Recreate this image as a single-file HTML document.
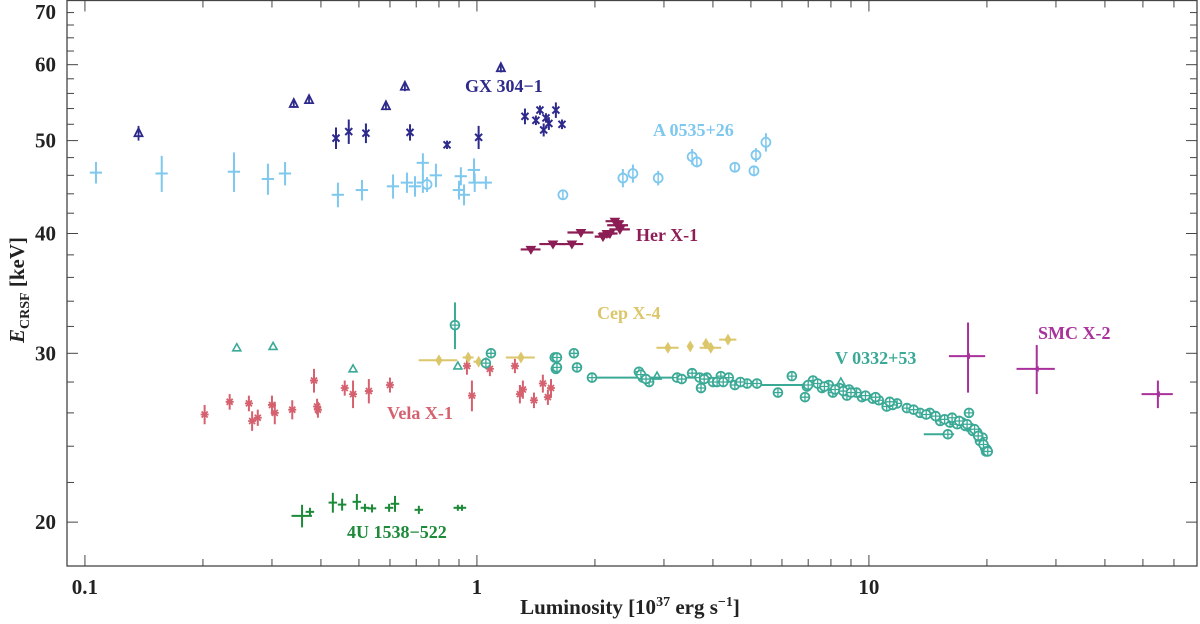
<!DOCTYPE html>
<html><head><meta charset="utf-8"><title>CRSF energy vs luminosity</title>
<style>
html,body{margin:0;padding:0;background:#fff;}
svg{display:block;font-family:"Liberation Serif",serif;}
</style></head>
<body>
<svg id="chart" width="1200" height="624" viewBox="0 0 1200 624" xmlns="http://www.w3.org/2000/svg">
<g id="axes"></g>
<g id="marks"></g>
<g id="labels"></g>
</svg>
<script>
// ---- data (luminosity in 1e37 erg/s, energy in keV, errors in keV / lum units) ----
const gxTriL = [0.137,0.341,0.373,0.586,0.655,1.151];
const gxTriE = [50.9,54.6,55.1,54.3,56.9,59.5];
const gxTriErr = [0.9,0.5,0.5,0.5,0.6,0.6];
const gxXL = [0.437,0.471,0.521,0.675,0.839,1.01,1.326,1.414,1.448,1.48,1.5,1.526,1.59,1.648];
const gxXE = [50.3,51.1,50.9,51.0,49.5,50.4,53.0,52.5,53.8,51.3,52.8,52.1,53.8,52.0];
const gxXErr = [1.3,1.5,1.2,1.0,0.5,1.4,1.0,0.6,0.6,0.8,0.6,0.8,1.0,0.6];
const aCrL = [0.1067,0.157,0.240,0.293,0.324,0.442,0.509,0.611,0.663,0.695,0.728,0.728,0.786,0.900,0.910,0.927,0.983,0.987,1.054];
const aCrE = [46.3,46.2,46.4,45.6,46.2,43.9,44.4,44.8,45.2,44.8,47.4,45.2,46.0,44.4,45.9,43.9,46.6,45.2,45.2];
const aCrErr = [1.2,2.0,2.2,1.7,1.3,1.3,1.1,1.3,1.1,1.1,1.1,1.1,1.3,1.0,1.0,1.1,1.3,1.0,0.7];
const aCiL = [0.746,1.657,2.357,2.50,2.90,3.54,3.64,4.55,5.09,5.15,5.46];
const aCiE = [45.0,43.9,45.7,46.2,45.7,48.1,47.5,46.9,46.5,48.3,49.8];
const aCiErr = [0.8,0.4,1.0,1.0,0.8,0.9,0.6,0.5,0.6,0.8,1.1];
const herL = [1.373,1.563,1.747,1.842,2.097,2.146,2.184,2.249,2.289,2.316];
const herE = [38.5,39.0,39.0,40.1,39.7,40.0,40.0,41.2,40.8,40.4];
const herXErr = [0.08,0.12,0.12,0.14,0.10,0.10,0.10,0.12,0.14,0.14];
const velaL = [0.202,0.234,0.262,0.267,0.276,0.300,0.305,0.338,0.384,0.391,0.393,0.460,0.483,0.530,0.600,0.943,0.971,1.079,1.250,1.287,1.31,1.398,1.473,1.517,1.545];
const velaE = [25.9,26.7,26.6,25.5,25.7,26.5,26.0,26.2,28.1,26.4,26.2,27.6,27.2,27.4,27.8,29.1,27.1,28.9,29.1,27.2,27.5,26.8,27.9,27.0,27.6];
const velaErr = [0.6,0.5,0.5,0.6,0.5,0.6,0.7,0.6,0.8,0.5,0.5,0.5,0.9,0.8,0.5,0.6,1.0,0.5,0.5,0.6,0.6,0.5,0.6,0.5,0.6];
const uL = [0.358,0.375,0.429,0.453,0.494,0.518,0.540,0.597,0.618,0.711,0.894,0.916];
const uE = [20.3,20.5,20.96,20.86,21.0,20.7,20.67,20.7,20.9,20.6,20.7,20.7];
const uErr = [0.55,0.2,0.5,0.3,0.4,0.2,0.2,0.2,0.4,0.2,0.15,0.15];
const cepL = [0.80,0.95,1.01,1.295,3.07,3.50,3.84,3.95,4.37];
const cepE = [29.5,29.7,29.4,29.7,30.4,30.5,30.7,30.4,31.0];
const cepXErr = [0.09,0.03,0.03,0.11,0.20,0.05,0.08,0.25,0.22];
const smcL = [17.9,26.8,54.6];
const smcE = [29.8,28.9,27.2];
const smcErrE = [2.5,1.7,0.9];
const smcErrL = [1.9,3.0,5.0];
const vTriL = [0.244,0.302,0.483,0.894,2.88,8.48];
const vTriE = [30.4,30.5,28.9,29.1,28.4,28.0];
const vL = [0.879,1.054,1.086,1.58,1.59,1.6,1.6,1.768,1.80,1.966,2.59,2.65,2.75,3.24,3.33,3.54,3.73,3.86,4.19,4.39,4.55,4.89,5.18,5.86,6.36,6.87,6.95,7.20,7.59,8.09,8.79,9.6,10.23,11.1,11.8,12.5,13.5,14.3,15.2,16.1,17.3,18.0,18.1,18.9,19.5,20.0,15.9,
  7.4,7.9,8.4,8.9,9.3,10.6,11.5,13.0,14.8,15.6,16.5,16.8,17.6,18.4,19.2,19.8,
  2.62,2.70,3.70,3.80,4.00,4.10,4.25,4.70,7.0,7.7,8.2,8.6,9.0,9.8,10.4,11.3,14.0,16.3,17.0,17.8,18.6,19.0,19.6,19.9,20.1];
const vE = [32.1,29.3,30.0,29.7,28.9,29.7,29.0,30.0,29.0,28.3,28.7,28.3,28.0,28.3,28.2,28.6,27.6,28.3,28.4,28.3,27.8,27.9,27.9,27.3,28.4,27.0,27.7,28.1,27.6,27.3,27.1,27.0,26.9,26.4,26.6,26.3,26.0,26.0,25.5,25.4,25.4,26.0,25.1,24.8,24.5,23.8,24.7,
  27.9,27.8,27.6,27.5,27.3,26.8,26.5,26.2,25.8,25.6,25.5,25.3,25.2,24.9,24.3,23.9,
  28.5,28.2,28.3,28.2,28.0,28.0,28.0,28.0,27.8,27.7,27.5,27.4,27.3,27.1,27.0,26.7,25.9,25.7,25.5,25.3,25.0,24.6,24.1,23.7,23.7];
const vErr = [1.8,0.4,0.3,0.3,0.3,0.3,0.3,0.3,0.3,0.3,0.3,0.3,0.3,0.3,0.3,0.3,0.3,0.3,0.3,0.3,0.3,0.3,0.3,0.3,0.3,0.3,0.3,0.3,0.3,0.3,0.3,0.3,0.3,0.3,0.3,0.3,0.3,0.3,0.3,0.3,0.3,0.3,0.3,0.3,0.3,0.3,0.3,
  0.2,0.2,0.2,0.2,0.2,0.2,0.2,0.2,0.2,0.2,0.2,0.2,0.2,0.2,0.2,0.2,
  0.2,0.2,0.2,0.2,0.2,0.2,0.2,0.2,0.2,0.2,0.2,0.2,0.2,0.2,0.2,0.2,0.2,0.2,0.2,0.2,0.2,0.2,0.2,0.2,0.2];
const xTickVals = [0.1,1,10];
const xTickLabels = ["0.1","1","10"];
const yTickVals = [20,30,40,50,60,70];
const yTickLabels = ["20","30","40","50","60","70"];

// ---- scales ----
const X0=67, X1=1197, Y0=0.5, Y1=566;
const LMIN=0.0900, LMAX=68.7, EMIN=18, EMAX=70;
function xs(L){return X0+(Math.log10(L)-Math.log10(LMIN))/(Math.log10(LMAX)-Math.log10(LMIN))*(X1-X0);}
function ys(E){return Y1-(Math.log10(E)-Math.log10(EMIN))/(Math.log10(EMAX)-Math.log10(EMIN))*(Y1-Y0);}
const NS="http://www.w3.org/2000/svg";
function mk(tag,attrs,parent){const e=document.createElementNS(NS,tag);for(const k in attrs)e.setAttribute(k,attrs[k]);parent.appendChild(e);return e;}
const axes=document.getElementById('axes'), marks=document.getElementById('marks'), labels=document.getElementById('labels');

// frame
const fr=mk('rect',{x:X0,y:Y0,width:X1-X0,height:Y1-Y0,fill:'none',stroke:'#444','stroke-width':1.3},axes);


// x ticks
const xMinor=[];
[0.1,1,10].forEach(d=>{for(let m=1;m<10;m++){const v=d*m;if(v>=LMIN&&v<=LMAX)xMinor.push(v);}});
xMinor.push(0.09);
xMinor.forEach(v=>{
  const major=[0.1,1,10].includes(v);
  const len=major?11:7;const x=xs(v);
  const t1=mk('line',{x1:x,x2:x,y1:Y1,y2:Y1-len,stroke:'#444','stroke-width':1},axes);
  
  
  const t2=mk('line',{x1:x,x2:x,y1:Y0,y2:Y0+len,stroke:'#444','stroke-width':1},axes);
  
  
});
xTickVals.forEach((v,i)=>{
  const t=mk('text',{x:xs(v),y:594,'text-anchor':'middle','font-size':21,'font-weight':'bold',fill:'#222'},axes);
  t.textContent=xTickLabels[i];
  
  
});
// y ticks
for(let v=18;v<=70;v+=2){
  const major=v%10===0;const len=major?11:7;const y=ys(v);
  const t1=mk('line',{x1:X0,x2:X0+len,y1:y,y2:y,stroke:'#444','stroke-width':1},axes);
  
  
  const t2=mk('line',{x1:X1,x2:X1-len,y1:y,y2:y,stroke:'#444','stroke-width':1},axes);
  
  
}
yTickVals.forEach((v,i)=>{
  let y=ys(v)+7; if(v===70) y=19;
  const t=mk('text',{x:56,y:y,'text-anchor':'end','font-size':21,'font-weight':'bold',fill:'#222'},axes);
  t.textContent=yTickLabels[i];
  
  
});
// axis titles
const xt=mk('text',{x:630,y:614,'text-anchor':'middle','font-size':21,'font-weight':'bold',fill:'#222'},axes);
xt.innerHTML='Luminosity [10<tspan dy="-8" font-size="14">37</tspan><tspan dy="8"> erg s</tspan><tspan dy="-8" font-size="14">−1</tspan><tspan dy="8">]</tspan>';


const yt=mk('text',{x:0,y:0,'text-anchor':'middle','font-size':21,'font-weight':'bold',fill:'#222',transform:'translate(24,290) rotate(-90)'},axes);
yt.innerHTML='<tspan font-style="italic">E</tspan><tspan font-size="14" dy="5">CRSF</tspan><tspan dy="-5"> [keV]</tspan>';



// ---- mark helpers ----
function vbar(g,L,E,err,c,w){mk('line',{x1:xs(L),x2:xs(L),y1:ys(E+err),y2:ys(Math.max(E-err,EMIN)),stroke:c,'stroke-width':w||2},g);}
function hbar(g,L,E,err,c,w){mk('line',{x1:xs(Math.max(L-err,LMIN)),x2:xs(L+err),y1:ys(E),y2:ys(E),stroke:c,'stroke-width':w||2},g);}
function grp(name){const g=mk('g',{},marks);return g;}

// GX 304-1
const cGX='#2e2a8c';
const gGX=grp('series-gx-304-1');
gxTriL.forEach((L,i)=>{const x=xs(L),y=ys(gxTriE[i]);vbar(gGX,L,gxTriE[i],gxTriErr[i],cGX,1.8);
  mk('path',{d:`M${x-4},${y+3}L${x+4},${y+3}L${x},${y-5}Z`,fill:'none',stroke:cGX,'stroke-width':1.8},gGX);});
gxXL.forEach((L,i)=>{const x=xs(L),y=ys(gxXE[i]);vbar(gGX,L,gxXE[i],gxXErr[i],cGX,2);
  mk('path',{d:`M${x-3.5},${y-3.5}L${x+3.5},${y+3.5}M${x+3.5},${y-3.5}L${x-3.5},${y+3.5}`,stroke:cGX,'stroke-width':2},gGX);});
// A 0535+26
const cA='#7ec8ef';
const gA=grp('series-a-0535-26');
aCrL.forEach((L,i)=>{vbar(gA,L,aCrE[i],aCrErr[i],cA,2);hbar(gA,L,aCrE[i],L*0.036,cA,2);});
aCiL.forEach((L,i)=>{const x=xs(L),y=ys(aCiE[i]);vbar(gA,L,aCiE[i],aCiErr[i],cA,2);
  mk('circle',{cx:x,cy:y,r:4.5,fill:'#fff',stroke:cA,'stroke-width':1.8},gA);
  mk('line',{x1:x,x2:x,y1:y-4.5,y2:y+4.5,stroke:cA,'stroke-width':1.5},gA);});
// Her X-1
const cH='#8c1d55';
const gH=grp('series-her-x-1');
herL.forEach((L,i)=>{const x=xs(L),y=ys(herE[i]);hbar(gH,L,herE[i],herXErr[i],cH,2.2);vbar(gH,L,herE[i],0.25,cH,2);
  mk('path',{d:`M${x-4.5},${y-3}L${x+4.5},${y-3}L${x},${y+4.5}Z`,fill:cH,stroke:cH,'stroke-width':1},gH);});
// Vela X-1
const cV='#d5616f';
const gV=grp('series-vela-x-1');
velaL.forEach((L,i)=>{const x=xs(L),y=ys(velaE[i]);vbar(gV,L,velaE[i],velaErr[i],cV,2);
  mk('path',{d:`M${x-4},${y}L${x+4},${y}M${x-3},${y-3}L${x+3},${y+3}M${x+3},${y-3}L${x-3},${y+3}`,stroke:cV,'stroke-width':1.8},gV);});
// 4U 1538-522
const cU='#1c8a38';
const gU=grp('series-4u-1538-522');
uL.forEach((L,i)=>{vbar(gU,L,uE[i],uErr[i],cU,2);hbar(gU,L,uE[i],L*(i===0?0.06:0.025),cU,2);});
// Cep X-4
const cC='#dcc66a';
const gC=grp('series-cep-x-4');
cepL.forEach((L,i)=>{const x=xs(L),y=ys(cepE[i]);hbar(gC,L,cepE[i],cepXErr[i],cC,2);
  mk('path',{d:`M${x},${y-5}L${x+3},${y}L${x},${y+5}L${x-3},${y}Z`,fill:cC,stroke:cC,'stroke-width':1},gC);});
// V 0332+53
const cT='#3aa996';
const gT=grp('series-v-0332-53');
vTriL.forEach((L,i)=>{const x=xs(L),y=ys(vTriE[i]);
  mk('path',{d:`M${x-4},${y+3}L${x+4},${y+3}L${x},${y-4}Z`,fill:'none',stroke:cT,'stroke-width':1.6},gT);});
mk('line',{x1:xs(2.0),x2:xs(3.8),y1:ys(28.3),y2:ys(28.3),stroke:cT,'stroke-width':2},gT);
mk('line',{x1:xs(5.1),x2:xs(6.9),y1:ys(27.8),y2:ys(27.8),stroke:cT,'stroke-width':2},gT);
mk('line',{x1:xs(13.8),x2:xs(16.5),y1:ys(24.7),y2:ys(24.7),stroke:cT,'stroke-width':2},gT);
vL.forEach((L,i)=>{const x=xs(L),y=ys(vE[i]);vbar(gT,L,vE[i],vErr[i],cT,2);
  mk('circle',{cx:x,cy:y,r:4.4,fill:'#fff',stroke:cT,'stroke-width':1.8},gT);
  mk('path',{d:`M${x-4},${y}L${x+4},${y}M${x},${y-4}L${x},${y+4}`,stroke:cT,'stroke-width':1.3},gT);});
// SMC X-2
const cS='#a8319b';
const gS=grp('series-smc-x-2');
smcL.forEach((L,i)=>{const x=xs(L),y=ys(smcE[i]);vbar(gS,L,smcE[i],smcErrE[i],cS,2);hbar(gS,L,smcE[i],smcErrL[i],cS,2);
  mk('path',{d:`M${x-3},${y}L${x+2},${y-3}L${x+2},${y+3}Z`,fill:cS},gS);});

// ---- series labels ----
const lab=[["GX 304−1",465,92,cGX,'label-gx-304-1'],["A 0535+26",653,136,cA,'label-a-0535-26'],["Her X-1",636,241,cH,'label-her-x-1'],
["Cep X-4",597,319,cC,'label-cep-x-4'],["V 0332+53",835,364,cT,'label-v-0332-53'],["SMC X-2",1038,339,cS,'label-smc-x-2'],
["Vela X-1",387,419,cV,'label-vela-x-1'],["4U 1538−522",347,538,cU,'label-4u-1538-522']];
lab.forEach(a=>{const t=mk('text',{x:a[1],y:a[2],'font-size':18,'font-weight':'bold',fill:a[3]},labels);t.textContent=a[0];
  
  });
</script>
</body></html>
